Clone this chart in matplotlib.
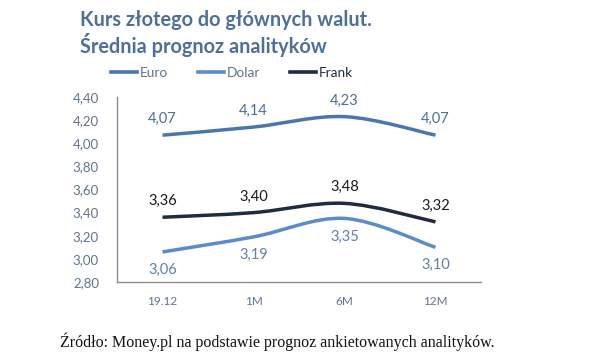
import matplotlib
matplotlib.use("Agg")
import matplotlib.pyplot as plt
from matplotlib.path import Path
from matplotlib.patches import PathPatch
from matplotlib.lines import Line2D

categories = ["19.12", "1M", "6M", "12M"]
euro = [4.07, 4.14, 4.23, 4.07]
dolar = [3.06, 3.19, 3.35, 3.10]
frank = [3.36, 3.40, 3.48, 3.32]
yticks = [2.80, 3.00, 3.20, 3.40, 3.60, 3.80, 4.00, 4.20, 4.40]

c_euro = "#4a76b0"
c_dolar = "#5a8ccc"
c_frank = "#1e2c40"
c_axis_txt = "#5f7390"
c_title = "#4e6f9e"

plt.rcParams["font.family"] = ["Lato", "DejaVu Sans"]

fig = plt.figure(figsize=(5.9, 3.58), dpi=100)
ax = fig.add_axes([117 / 590, 1 - 282 / 358, 364 / 590, 185 / 358])


def fmt(v):
    return f"{v:.2f}".replace(".", ",")


def smooth_path(xs, ys, t=1 / 6):
    # Catmull-Rom style bezier through points (like Excel's smoothed line)
    verts = [(xs[0], ys[0])]
    codes = [Path.MOVETO]
    n = len(xs)
    for i in range(n - 1):
        p0 = (xs[max(i - 1, 0)], ys[max(i - 1, 0)])
        p1 = (xs[i], ys[i])
        p2 = (xs[i + 1], ys[i + 1])
        p3 = (xs[min(i + 2, n - 1)], ys[min(i + 2, n - 1)])
        c1 = (p1[0] + (p2[0] - p0[0]) * t, p1[1] + (p2[1] - p0[1]) * t)
        c2 = (p2[0] - (p3[0] - p1[0]) * t, p2[1] - (p3[1] - p1[1]) * t)
        verts += [c1, c2, p2]
        codes += [Path.CURVE4] * 3
    return Path(verts, codes)


x = list(range(len(categories)))
series = [(euro, c_euro, 16, "#4f6d99"), (dolar, c_dolar, -18, "#5f7fae"),
          (frank, c_frank, 16, "#1a1a1a")]
for vals, col, off, tcol in series:
    ax.add_patch(PathPatch(smooth_path(x, vals), facecolor="none", edgecolor=col,
                           lw=2.5, capstyle="butt"))
    for xi, v in zip(x, vals):
        ax.annotate(fmt(v), (xi, v), xytext=(0, off), textcoords="offset pixels",
                    ha="center", va="center", fontsize=10.5, color=tcol)

ax.set_xlim(-0.5, 3.5)
ax.set_ylim(2.80, 4.40)
ax.set_xticks(x)
ax.set_xticklabels(categories)
ax.set_yticks(yticks)
ax.set_yticklabels([fmt(v) for v in yticks])
ax.tick_params(axis="both", length=0, colors=c_axis_txt)
ax.tick_params(axis="x", pad=10, labelsize=8.5)
ax.tick_params(axis="y", pad=13, labelsize=9.5)
for s in ["top", "right"]:
    ax.spines[s].set_visible(False)
for s in ["left", "bottom"]:
    ax.spines[s].set_color("#8c8c8c")
    ax.spines[s].set_linewidth(1.0)

fig.text(80 / 590, 1 - 20 / 358, "Kurs złotego do głównych walut.", fontsize=14.3,
         fontweight="bold", color=c_title, va="center", ha="left")
fig.text(80 / 590, 1 - 45 / 358, "Średnia prognoz analityków", fontsize=14.3,
         fontweight="bold", color=c_title, va="center", ha="left")

handles = [Line2D([], [], color=c_euro, lw=2.6), Line2D([], [], color=c_dolar, lw=2.6),
           Line2D([], [], color=c_frank, lw=2.6)]
leg = fig.legend(handles, ["Euro", "Dolar", "Frank"], loc="center",
                 bbox_to_anchor=(232 / 590, 1 - 73 / 358), ncol=3, frameon=False,
                 fontsize=9.8, handlelength=1.9, handletextpad=0.2, columnspacing=2.2)
for t, c in zip(leg.get_texts(), [c_axis_txt, c_axis_txt, c_frank]):
    t.set_color(c)

fig.text(60 / 590, 1 - 342 / 358,
         "Źródło: Money.pl na podstawie prognoz ankietowanych analityków.",
         fontsize=11.5, family=["Liberation Serif", "DejaVu Serif"], color="#111111",
         va="center", ha="left")

fig.savefig("out.png", dpi=100)
